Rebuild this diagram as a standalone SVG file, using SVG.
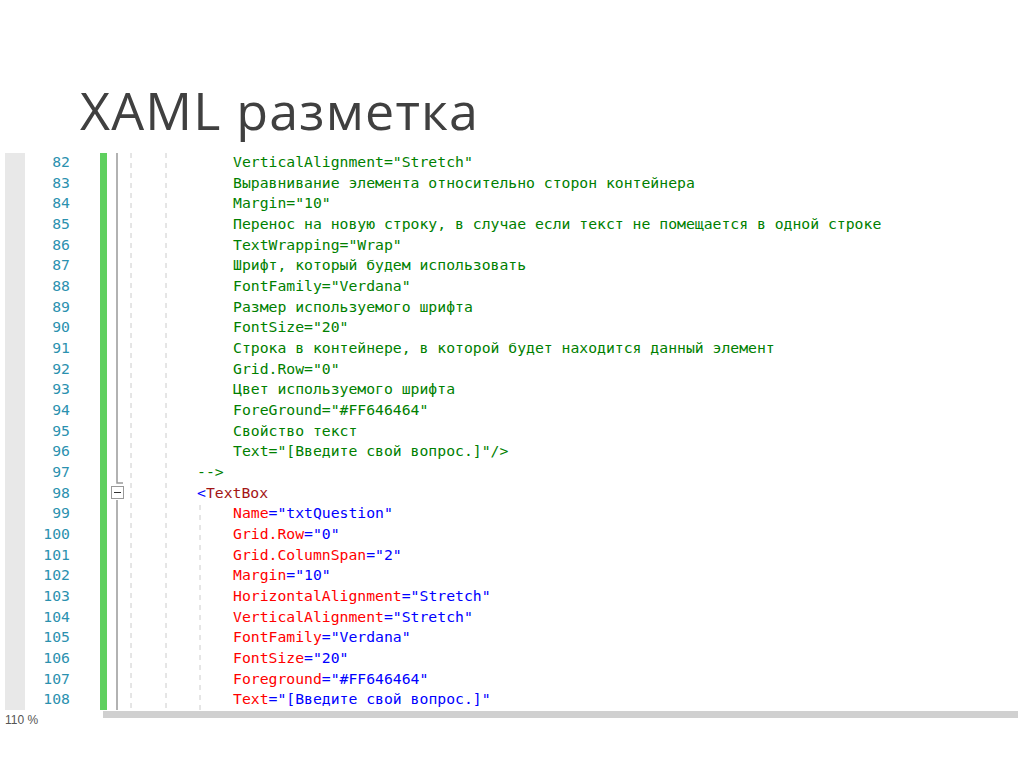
<svg xmlns="http://www.w3.org/2000/svg" width="1024" height="767" viewBox="0 0 1024 767">
<style>
.c{font-family:"DejaVu Sans Mono","Liberation Mono",monospace;font-size:14.75px}
.n{fill:#2b91af;text-anchor:end}
.g{fill:#008000}
.r{fill:#ff0000}
.b{fill:#0000ff}
.m{fill:#a31515}
</style>
<rect width="1024" height="767" fill="#fff"/>
<text x="80" y="130" font-family="Open Sans,Liberation Sans,sans-serif" font-size="52" textLength="398" fill="#404040">XAML разметка</text>
<g id="editor">
<rect x="5" y="153" width="20" height="557" fill="#e8e8e8"/>
<rect x="100" y="153" width="7" height="557" fill="#5fd05f"/>
<path d="M117 153V483H123M117 500V710" stroke="#999" stroke-width="1.5" fill="none"/>
<rect x="111.5" y="486.5" width="12" height="12" fill="#fff" stroke="#999"/>
<path d="M114 492.5H121" stroke="#333"/>
<path d="M131 153V710M166 153V710M200 505V710" stroke="#ccc" stroke-dasharray="5,5"/>
<rect x="103" y="711" width="915" height="7" fill="#d0d0d0"/>
<text x="5" y="724" font-family="Liberation Sans,sans-serif" font-size="12" fill="#555">110 %</text>
</g>
<g id="code" class="c">
<text class="n" x="70" y="167">82</text><text class="g" x="233" y="167">VerticalAlignment="Stretch"</text>
<text class="n" x="70" y="188">83</text><text class="g" x="233" y="188">Выравнивание элемента относительно сторон контейнера</text>
<text class="n" x="70" y="208">84</text><text class="g" x="233" y="208">Margin="10"</text>
<text class="n" x="70" y="229">85</text><text class="g" x="233" y="229">Перенос на новую строку, в случае если текст не помещается в одной строке</text>
<text class="n" x="70" y="250">86</text><text class="g" x="233" y="250">TextWrapping="Wrap"</text>
<text class="n" x="70" y="270">87</text><text class="g" x="233" y="270">Шрифт, который будем использовать</text>
<text class="n" x="70" y="291">88</text><text class="g" x="233" y="291">FontFamily="Verdana"</text>
<text class="n" x="70" y="312">89</text><text class="g" x="233" y="312">Размер используемого шрифта</text>
<text class="n" x="70" y="332">90</text><text class="g" x="233" y="332">FontSize="20"</text>
<text class="n" x="70" y="353">91</text><text class="g" x="233" y="353">Строка в контейнере, в которой будет находится данный элемент</text>
<text class="n" x="70" y="374">92</text><text class="g" x="233" y="374">Grid.Row="0"</text>
<text class="n" x="70" y="394">93</text><text class="g" x="233" y="394">Цвет используемого шрифта</text>
<text class="n" x="70" y="415">94</text><text class="g" x="233" y="415">ForeGround="#FF646464"</text>
<text class="n" x="70" y="436">95</text><text class="g" x="233" y="436">Свойство текст</text>
<text class="n" x="70" y="456">96</text><text class="g" x="233" y="456">Text="[Введите свой вопрос.]"/&gt;</text>
<text class="n" x="70" y="477">97</text><text class="g" x="197" y="477">--&gt;</text>
<text class="n" x="70" y="498">98</text><text x="197" y="498"><tspan class="b">&lt;</tspan><tspan class="m">TextBox</tspan></text>
<text class="n" x="70" y="518">99</text><text x="233" y="518"><tspan class="r">Name</tspan><tspan class="b">="txtQuestion"</tspan></text>
<text class="n" x="70" y="539">100</text><text x="233" y="539"><tspan class="r">Grid.Row</tspan><tspan class="b">="0"</tspan></text>
<text class="n" x="70" y="560">101</text><text x="233" y="560"><tspan class="r">Grid.ColumnSpan</tspan><tspan class="b">="2"</tspan></text>
<text class="n" x="70" y="580">102</text><text x="233" y="580"><tspan class="r">Margin</tspan><tspan class="b">="10"</tspan></text>
<text class="n" x="70" y="601">103</text><text x="233" y="601"><tspan class="r">HorizontalAlignment</tspan><tspan class="b">="Stretch"</tspan></text>
<text class="n" x="70" y="622">104</text><text x="233" y="622"><tspan class="r">VerticalAlignment</tspan><tspan class="b">="Stretch"</tspan></text>
<text class="n" x="70" y="642">105</text><text x="233" y="642"><tspan class="r">FontFamily</tspan><tspan class="b">="Verdana"</tspan></text>
<text class="n" x="70" y="663">106</text><text x="233" y="663"><tspan class="r">FontSize</tspan><tspan class="b">="20"</tspan></text>
<text class="n" x="70" y="684">107</text><text x="233" y="684"><tspan class="r">Foreground</tspan><tspan class="b">="#FF646464"</tspan></text>
<text class="n" x="70" y="704">108</text><text x="233" y="704"><tspan class="r">Text</tspan><tspan class="b">="[Введите свой вопрос.]"</tspan></text>
</g>
</svg>
